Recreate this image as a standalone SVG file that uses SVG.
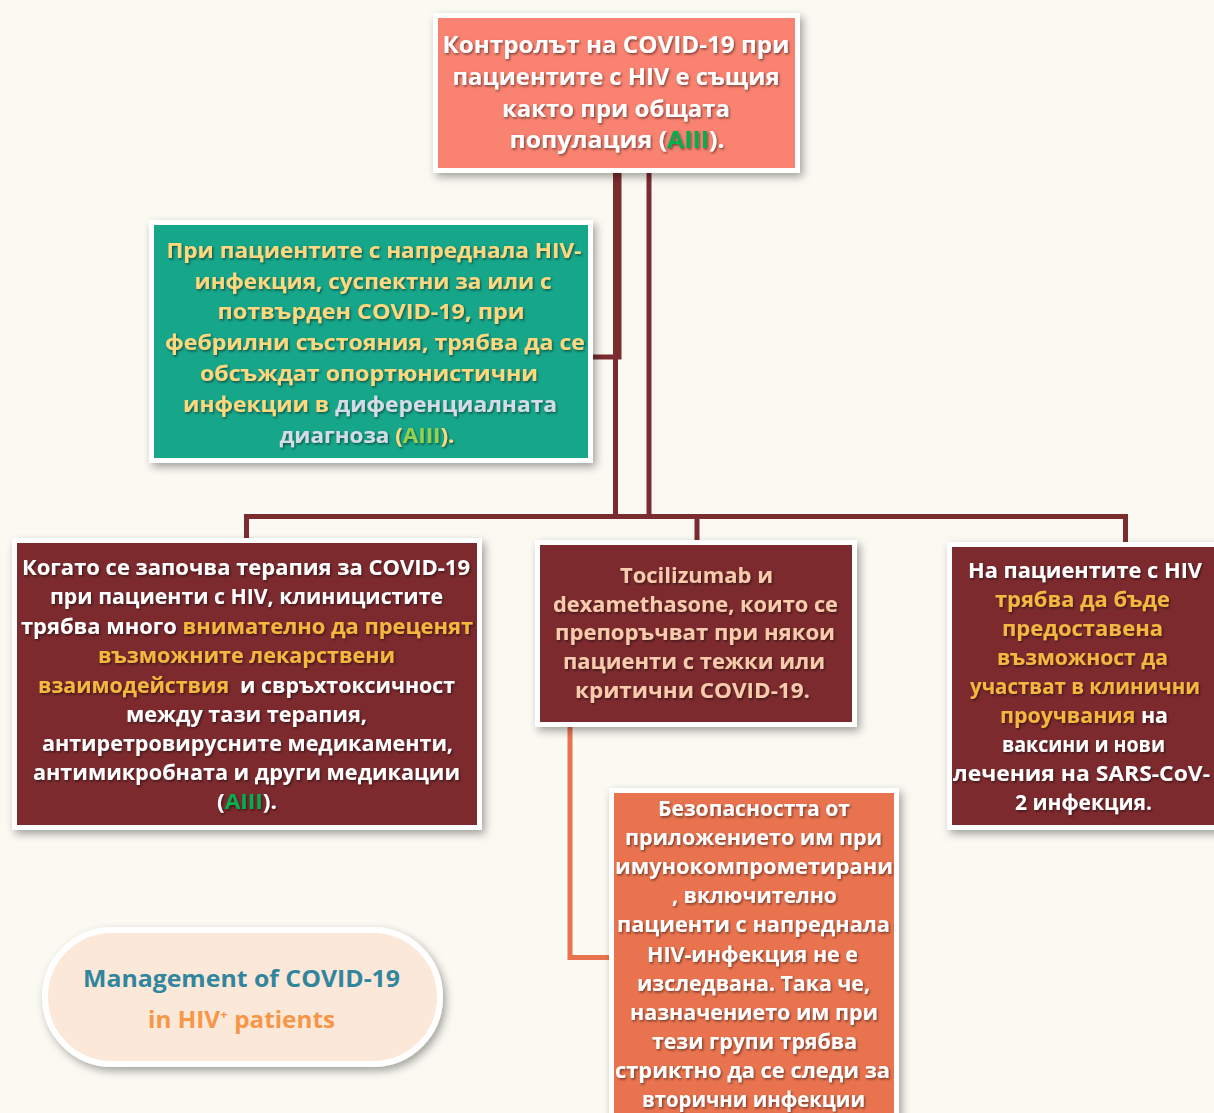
<svg xmlns="http://www.w3.org/2000/svg" width="1214" height="1113" viewBox="0 0 1214 1113">
<defs>
<filter id="boxsh" x="-10%" y="-10%" width="125%" height="130%">
<feDropShadow dx="3" dy="4" stdDeviation="4" flood-color="#000" flood-opacity="0.35"/>
</filter>
<filter id="txtsh" x="-5%" y="-20%" width="110%" height="150%">
<feDropShadow dx="1.2" dy="1.5" stdDeviation="0.8" flood-color="#000" flood-opacity="0.5"/>
</filter>
<style>
text{font-family:"Open Sans","Noto Sans","DejaVu Sans",sans-serif;font-weight:700;text-anchor:middle}
.box{stroke:#fff;stroke-width:5}
.conn{fill:none;stroke:#7B2C2F;stroke-width:5;stroke-linejoin:miter}
.w{fill:#fff}
.y{fill:#FFD77E}
.o{fill:#F4B740}
.g{fill:#00B050}
.lg{fill:#92D050}
.gb{fill:#D6DCE5}
.pk{fill:#F8CBAD}
</style>
</defs>
<rect width="1214" height="1113" fill="#FAF9F2"/>

<g id="connectors">
<path class="conn" d="M619 172 V357 H590"/>
<path class="conn" d="M615.5 172 V516.5"/>
<path class="conn" d="M649 172 V516.5"/>
<path class="conn" d="M246.5 540 V516.5 H1125.5 V545"/>
<path class="conn" d="M697 516.5 V542"/>
<path fill="none" stroke="#E9734F" stroke-width="5" d="M570 725 V957.5 H612"/>
</g>

<g id="node-top">
<rect class="box" x="435.5" y="15.5" width="362" height="155" fill="#F9826F" filter="url(#boxsh)"/>
<g filter="url(#txtsh)" class="w" font-size="24">
<text x="616" y="53" textLength="347" lengthAdjust="spacingAndGlyphs">Контролът на COVID-19 при</text>
<text x="616" y="85" textLength="327" lengthAdjust="spacingAndGlyphs">пациентите с HIV е същия</text>
<text x="616" y="117" textLength="228" lengthAdjust="spacingAndGlyphs">както при общата</text>
<text x="617" y="148" textLength="215" lengthAdjust="spacingAndGlyphs">популация (<tspan class="g">AIII</tspan>).</text>
</g>
</g>

<g id="node-green">
<rect class="box" x="151.5" y="222.5" width="439" height="238" fill="#17A68A" filter="url(#boxsh)"/>
<g filter="url(#txtsh)" class="y" font-size="22">
<text x="374" y="258" textLength="415" lengthAdjust="spacingAndGlyphs">При пациентите с напреднала HIV-</text>
<text x="373" y="289" textLength="357" lengthAdjust="spacingAndGlyphs">инфекция, суспектни за или с</text>
<text x="371" y="319" textLength="307" lengthAdjust="spacingAndGlyphs">потвърден COVID-19, при</text>
<text x="375" y="350" textLength="420" lengthAdjust="spacingAndGlyphs">фебрилни състояния, трябва да се</text>
<text x="369" y="381" textLength="338" lengthAdjust="spacingAndGlyphs">обсъждат опортюнистични</text>
<text x="370" y="412" textLength="374" lengthAdjust="spacingAndGlyphs">инфекции в <tspan class="gb">диференциалната</tspan></text>
<text x="367" y="443" textLength="175" lengthAdjust="spacingAndGlyphs"><tspan class="gb">диагноза</tspan> (<tspan class="lg">AIII</tspan>).</text>
</g>
</g>

<g id="node-left">
<rect class="box" x="14.5" y="540.5" width="465" height="287" fill="#7B2C2F" filter="url(#boxsh)"/>
<g filter="url(#txtsh)" class="w" font-size="21.5">
<text x="246" y="575" textLength="448" lengthAdjust="spacingAndGlyphs">Когато се започва терапия за COVID-19</text>
<text x="246.5" y="604" textLength="393" lengthAdjust="spacingAndGlyphs">при пациенти с HIV, клиницистите</text>
<text x="247" y="634" textLength="452" lengthAdjust="spacingAndGlyphs">трябва много <tspan class="o">внимателно да преценят</tspan></text>
<text x="246.5" y="663" textLength="297" lengthAdjust="spacingAndGlyphs" class="o">възможните лекарствени</text>
<text x="246.5" y="693" textLength="417" lengthAdjust="spacingAndGlyphs" xml:space="preserve"><tspan class="o">взаимодействия</tspan>  и свръхтоксичност</text>
<text x="246.5" y="722" textLength="241" lengthAdjust="spacingAndGlyphs">между тази терапия,</text>
<text x="247.5" y="751" textLength="411" lengthAdjust="spacingAndGlyphs">антиретровирусните медикаменти,</text>
<text x="246.5" y="780" textLength="427" lengthAdjust="spacingAndGlyphs">антимикробната и други медикации</text>
<text x="247" y="809" textLength="60" lengthAdjust="spacingAndGlyphs">(<tspan class="g">AIII</tspan>).</text>
</g>
</g>

<g id="node-middle">
<rect class="box" x="537.5" y="542.5" width="317" height="182" fill="#7B2C2F" filter="url(#boxsh)"/>
<g filter="url(#txtsh)" class="pk" font-size="21.5">
<text x="696.5" y="583" textLength="153" lengthAdjust="spacingAndGlyphs">Tocilizumab и</text>
<text x="695.5" y="612" textLength="285" lengthAdjust="spacingAndGlyphs">dexamethasone, които се</text>
<text x="695" y="640" textLength="280" lengthAdjust="spacingAndGlyphs">препоръчват при някои</text>
<text x="694" y="669" textLength="262" lengthAdjust="spacingAndGlyphs">пациенти с тежки или</text>
<text x="692.5" y="698" textLength="235" lengthAdjust="spacingAndGlyphs">критични COVID-19.</text>
</g>
</g>

<g id="node-right">
<rect class="box" x="949.5" y="544.5" width="280" height="283" fill="#7B2C2F" filter="url(#boxsh)"/>
<g filter="url(#txtsh)" class="w" font-size="21">
<text x="1085" y="578" textLength="234" lengthAdjust="spacingAndGlyphs">На пациентите с HIV</text>
<text x="1082.5" y="607" textLength="175" lengthAdjust="spacingAndGlyphs" class="o">трябва да бъде</text>
<text x="1082.5" y="636" textLength="161" lengthAdjust="spacingAndGlyphs" class="o">предоставена</text>
<text x="1082.5" y="665" textLength="171" lengthAdjust="spacingAndGlyphs" class="o">възможност да</text>
<text x="1085" y="694" textLength="230" lengthAdjust="spacingAndGlyphs" class="o">участват в клинични</text>
<text x="1084" y="723" textLength="168" lengthAdjust="spacingAndGlyphs"><tspan class="o">проучвания</tspan> на</text>
<text x="1083.5" y="752" textLength="163" lengthAdjust="spacingAndGlyphs">ваксини и нови</text>
<text x="1081.5" y="781" textLength="257" lengthAdjust="spacingAndGlyphs">лечения на SARS-CoV-</text>
<text x="1083.5" y="810" textLength="137" lengthAdjust="spacingAndGlyphs">2 инфекция.</text>
</g>
</g>

<g id="node-orange">
<rect class="box" x="611.5" y="790.5" width="285" height="340" fill="#E9734F" filter="url(#boxsh)"/>
<g filter="url(#txtsh)" class="w" font-size="21.5">
<text x="754" y="816" textLength="192" lengthAdjust="spacingAndGlyphs">Безопасността от</text>
<text x="753.5" y="845" textLength="257" lengthAdjust="spacingAndGlyphs">приложението им при</text>
<text x="754" y="874" textLength="278" lengthAdjust="spacingAndGlyphs">имунокомпрометирани</text>
<text x="754.5" y="903" textLength="165" lengthAdjust="spacingAndGlyphs">, включително</text>
<text x="753.5" y="932" textLength="273" lengthAdjust="spacingAndGlyphs">пациенти с напреднала</text>
<text x="752.5" y="962" textLength="211" lengthAdjust="spacingAndGlyphs">HIV-инфекция не е</text>
<text x="753.5" y="991" textLength="233" lengthAdjust="spacingAndGlyphs">изследвана. Така че,</text>
<text x="754" y="1020" textLength="248" lengthAdjust="spacingAndGlyphs">назначението им при</text>
<text x="754.5" y="1049" textLength="205" lengthAdjust="spacingAndGlyphs">тези групи трябва</text>
<text x="752.5" y="1078" textLength="275" lengthAdjust="spacingAndGlyphs">стриктно да се следи за</text>
<text x="753.5" y="1107" textLength="223" lengthAdjust="spacingAndGlyphs">вторични инфекции</text>
</g>
</g>

<g id="node-title">
<rect x="45" y="930" width="395" height="134" rx="67" fill="#FBE8D9" stroke="#fff" stroke-width="6" filter="url(#boxsh)"/>
<text x="241.5" y="987" font-size="23" font-weight="600" fill="#31859C" textLength="317" lengthAdjust="spacingAndGlyphs">Management of COVID-19</text>
<text x="241.5" y="1028" font-size="23" font-weight="600" fill="#F79646" textLength="187" lengthAdjust="spacingAndGlyphs">in HIV<tspan dy="-9" font-size="13">+</tspan><tspan dy="9"> patients</tspan></text>
</g>
</svg>
